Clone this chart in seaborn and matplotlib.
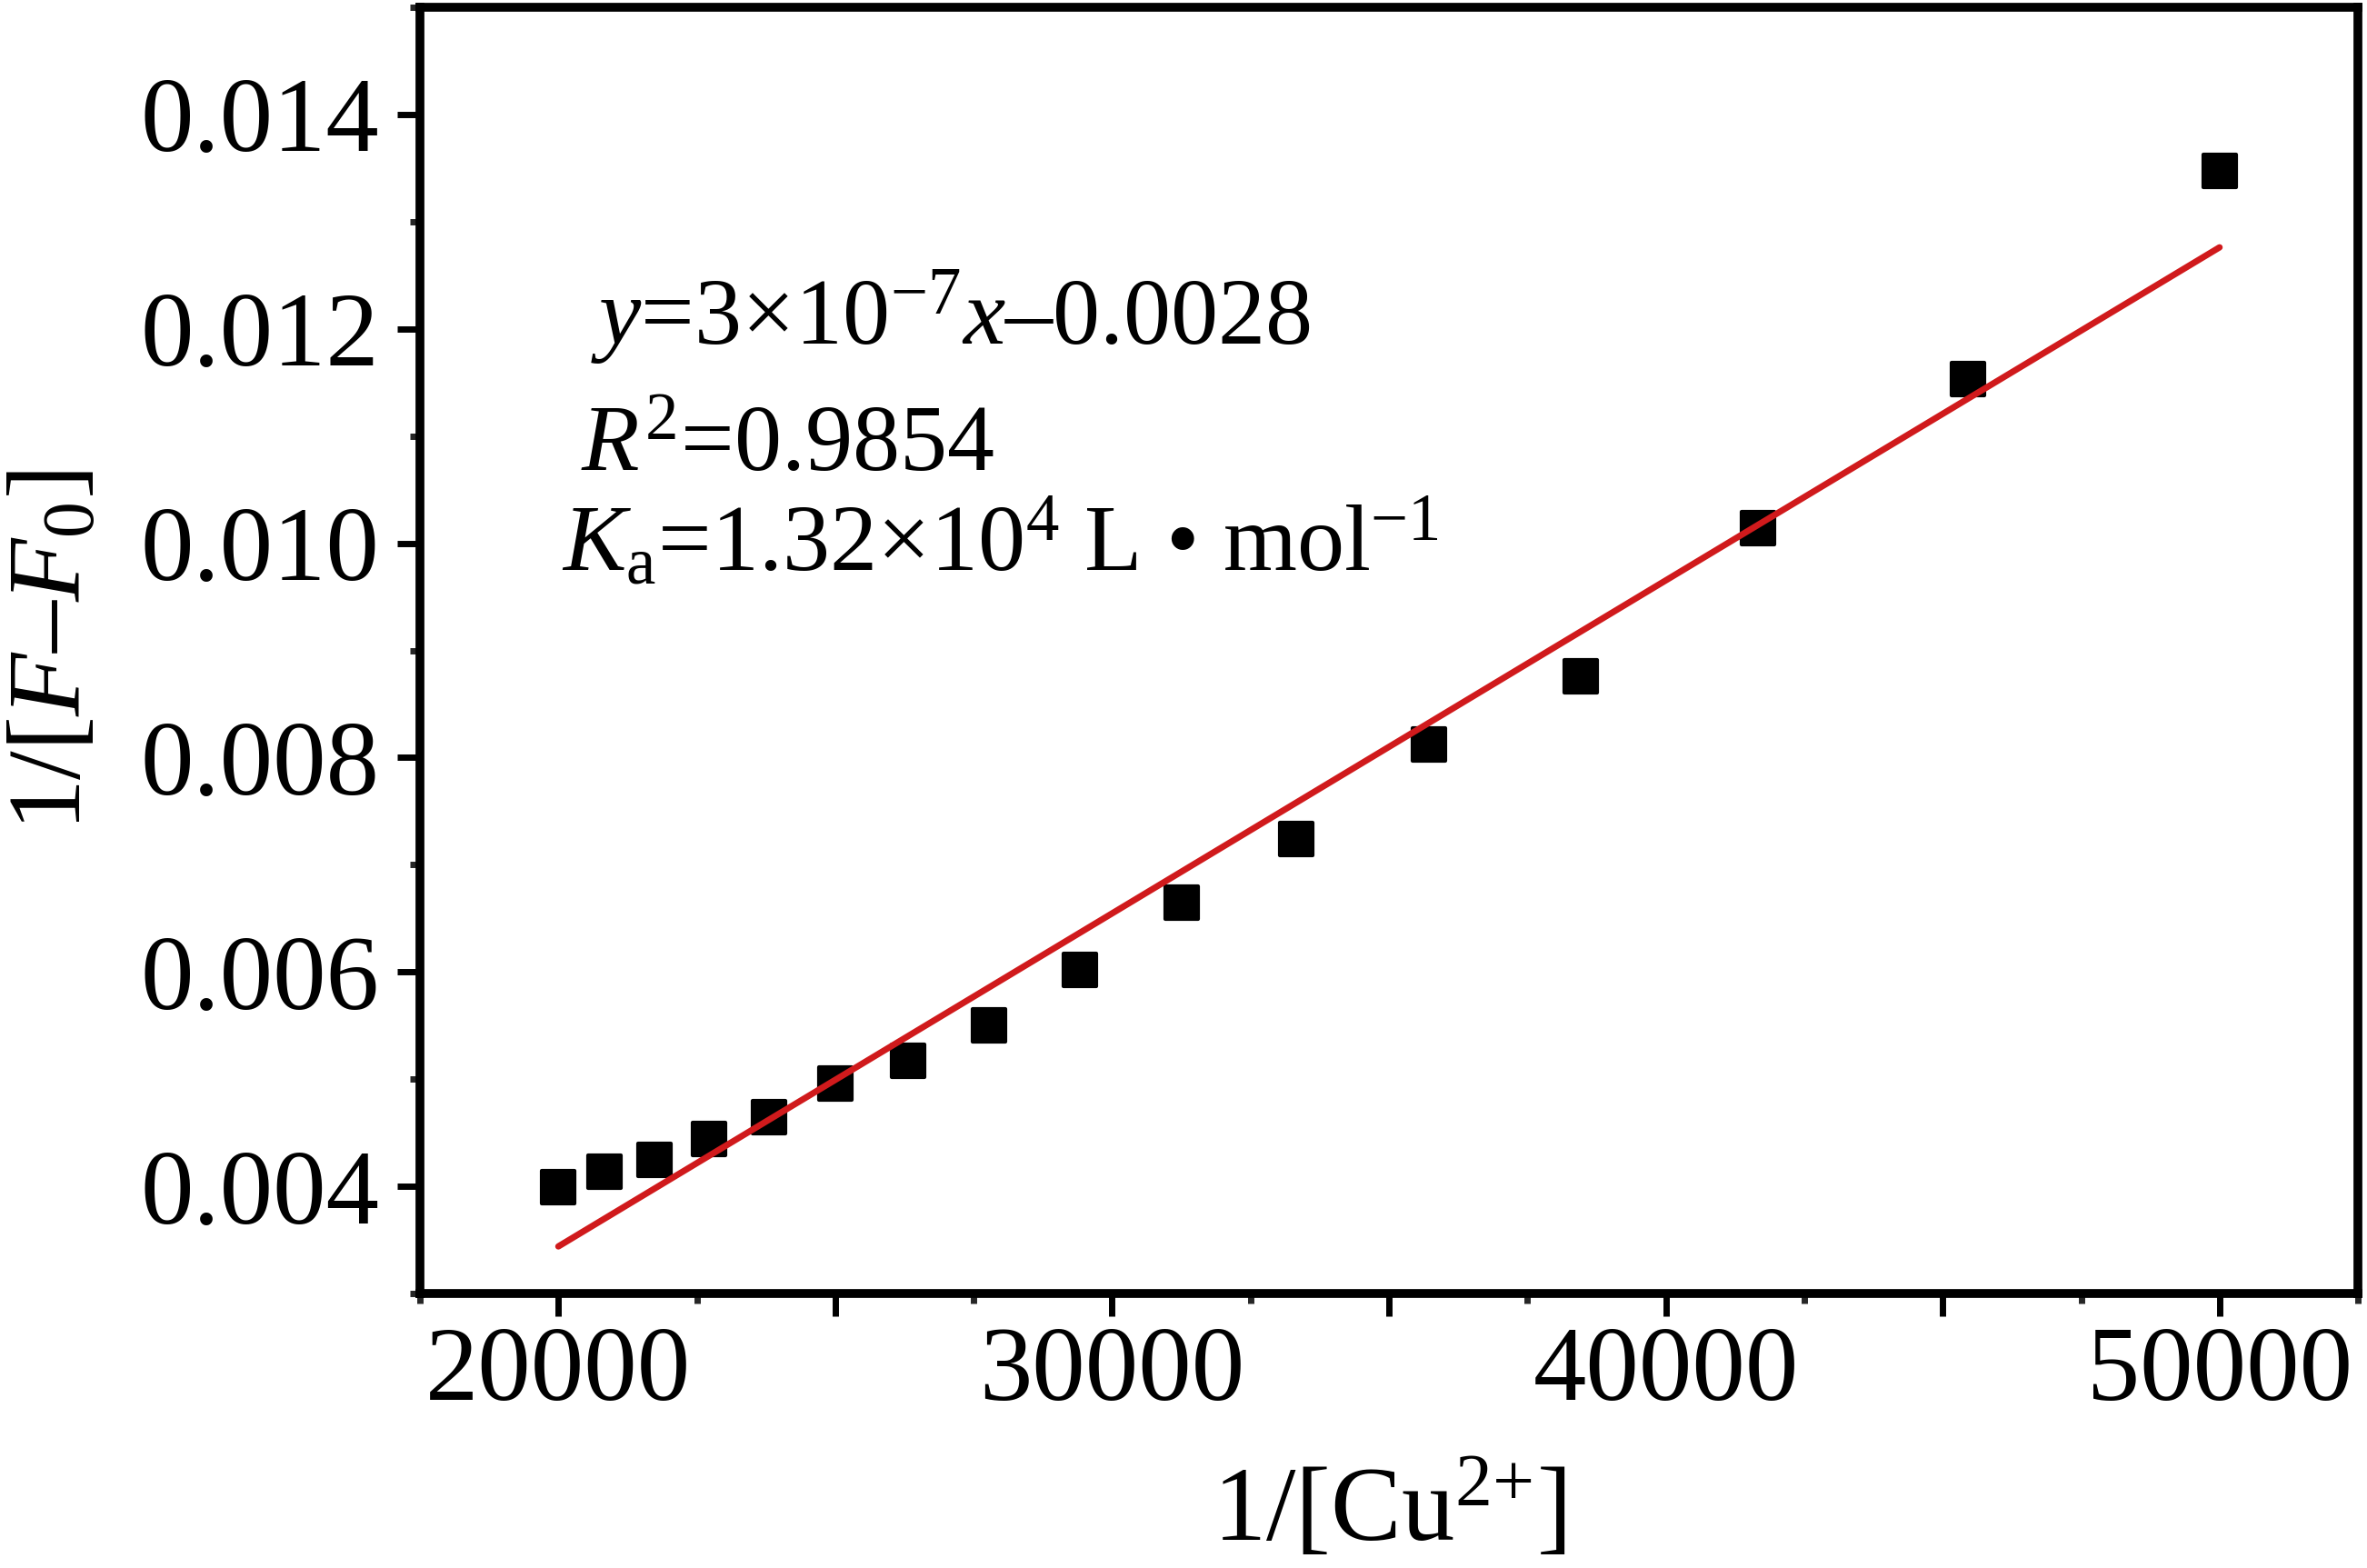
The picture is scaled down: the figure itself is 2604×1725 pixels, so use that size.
import numpy as np
import pandas as pd
import matplotlib
matplotlib.use('Agg')
import matplotlib.pyplot as plt
import seaborn as sns
from matplotlib.ticker import MultipleLocator, FuncFormatter

# data
inv_cu = [20000, 20833, 21739, 22727, 23810, 25000, 26316, 27778,
          29412, 31250, 33333, 35714, 38462, 41667, 45455, 50000]
inv_dF = [0.00399, 0.00414, 0.00425, 0.00444, 0.00465, 0.00496, 0.00517, 0.00550,
          0.00602, 0.00665, 0.00724, 0.00812, 0.00876, 0.01014, 0.01153, 0.01347]
fit_x = [20000, 50000]
fit_y = [0.00344, 0.01276]

eq_text = r'$y$=3×10$^{-7}$$x$–0.0028'
r2_text = r'$R^2$=0.9854'
ka_text = r'$K_{\rm a}$=1.32×10$^4$ L • mol$^{-1}$'

df = pd.DataFrame({'x': inv_cu, 'y': inv_dF})
fit = pd.DataFrame({'x': fit_x, 'y': fit_y})

sns.set_style('ticks')
plt.rcParams['font.family'] = ['Liberation Serif', 'DejaVu Serif']
plt.rcParams['mathtext.fontset'] = 'custom'
plt.rcParams['mathtext.rm'] = 'Liberation Serif'
plt.rcParams['mathtext.it'] = 'Liberation Serif:italic'
plt.rcParams['text.color'] = 'black'
plt.rcParams['axes.labelcolor'] = 'black'

fig = plt.figure(figsize=(26.04, 17.25), dpi=100)
ax = fig.add_axes([0.1774, 0.175, 0.8188, 0.8204])

sns.scatterplot(data=df, x='x', y='y', marker='s', s=650, color='black',
                edgecolor='black', linewidth=3, joinstyle='round', ax=ax, zorder=3)
sns.lineplot(data=fit, x='x', y='y', color='#d01a1c', linewidth=5, ax=ax,
             zorder=4, solid_capstyle='round')

ax.set_xlim(17500, 52500)
ax.set_ylim(0.003, 0.015)
ax.xaxis.set_major_locator(MultipleLocator(5000))
ax.xaxis.set_minor_locator(MultipleLocator(2500))
ax.xaxis.set_major_formatter(FuncFormatter(lambda v, p: f'{v:.0f}' if round(v) % 10000 == 0 else ''))
ax.yaxis.set_major_locator(MultipleLocator(0.002))
ax.yaxis.set_minor_locator(MultipleLocator(0.001))
ax.yaxis.set_major_formatter(FuncFormatter(lambda v, p: f'{v:.3f}' if v > 0.0035 and v < 0.0145 else ''))

for s in ax.spines.values():
    s.set_linewidth(7)
    s.set_color('black')
ax.tick_params(which='major', direction='out', length=18, width=5, labelsize=84,
               colors='black', pad=8)
ax.tick_params(which='minor', direction='out', length=8, width=5)
ax.tick_params(axis='y', which='major', pad=14)

ax.set_xlabel(r'1/[Cu$^{2{+}}$]', fontsize=84, labelpad=30)
ax.set_ylabel(r'1/[$F$–$F_0$]', fontsize=82, labelpad=30)

ax.text(0.088, 0.738, eq_text, transform=ax.transAxes, fontsize=75, va='baseline')
ax.text(0.083, 0.640, r2_text, transform=ax.transAxes, fontsize=75, va='baseline')
ax.text(0.073, 0.562, ka_text, transform=ax.transAxes, fontsize=75, va='baseline')

fig.savefig('out.png', dpi=100)
